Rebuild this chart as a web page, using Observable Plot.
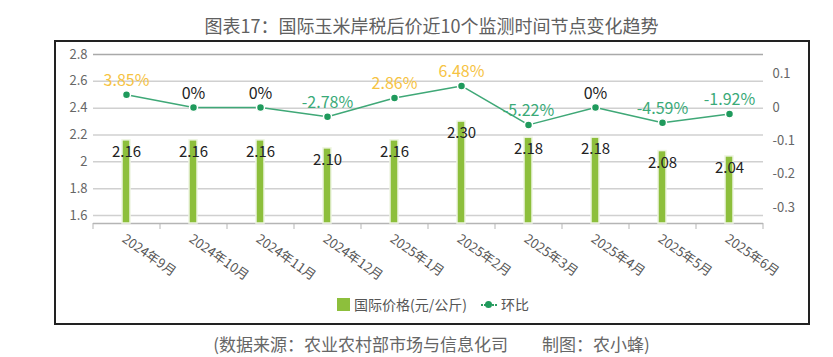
<!DOCTYPE html>
<html>
<head>
<meta charset="utf-8">
<script src="https://cdn.jsdelivr.net/npm/d3@7"></script>
<script src="https://cdn.jsdelivr.net/npm/@observablehq/plot@0.6"></script>
<style>
  html, body { margin: 0; padding: 0; background: #fff; }
  body { width: 833px; height: 357px; position: relative; overflow: hidden; font-family: "Noto Sans CJK SC", "Noto Sans", sans-serif; }
  #title { position: absolute; left: 0; width: 863px; top: 12px; text-align: center; font-size: 18px; color: #606060; }
  #box { position: absolute; left: 54px; top: 40px; width: 752px; height: 281px; border: 2px solid #222; pointer-events: none; }
  #caption { position: absolute; left: 0; width: 863px; top: 331px; text-align: center; font-size: 17px; color: #666; }
  #legend { position: absolute; top: 294px; left: 337px; font-size: 14px; color: #555; display: flex; align-items: center; }
  .sw { display: inline-block; width: 13px; height: 13px; background: #8dbf3c; margin-right: 4px; }
  .ln { display: inline-block; position: relative; width: 16px; height: 13px; margin: 0 4px 0 14px; }
  .ln::before { content: ""; position: absolute; left: 0; right: 0; top: 6px; border-top: 2px dotted #2e9e62; }
  .ln::after { content: ""; position: absolute; left: 4px; top: 3px; width: 7px; height: 7px; border-radius: 50%; background: #1f9a5c; }
  #chart { position: absolute; left: 0; top: 0; }
</style>
</head>
<body>
<div id="title">图表17：国际玉米岸税后价近10个监测时间节点变化趋势</div>
<div id="chart"></div>
<div id="box"></div>
<div id="legend"><span class="sw"></span><span>国际价格(元/公斤)</span><span class="ln"></span><span>环比</span></div>
<div id="caption">(数据来源：农业农村部市场与信息化司　　制图：农小蜂)</div>
<script>
// ---- data ----
const months = ["2024年9月", "2024年10月", "2024年11月", "2024年12月", "2025年1月", "2025年2月", "2025年3月", "2025年4月", "2025年5月", "2025年6月"];
const prices = [2.16, 2.16, 2.16, 2.10, 2.16, 2.30, 2.18, 2.18, 2.08, 2.04];
const changes = [0.0385, 0, 0, -0.0278, 0.0286, 0.0648, -0.0522, 0, -0.0459, -0.0192];
const changeLabels = ["3.85%", "0%", "0%", "-2.78%", "2.86%", "6.48%", "-5.22%", "0%", "-4.59%", "-1.92%"];
const leftTicks = [1.6, 1.8, 2.0, 2.2, 2.4, 2.6, 2.8];
const leftTickLabels = ["1.6", "1.8", "2", "2.2", "2.4", "2.6", "2.8"];
const rightTicks = [0.1, 0, -0.1, -0.2, -0.3];
const rightTickLabels = ["0.1", "0", "-0.1", "-0.2", "-0.3"];
const leftDomain = [1.54, 2.8];
const rightDomain = [-0.3483, 0.1592];

// ---- layout ----
const W = 833, H = 357;
const mL = 93, mR = 70, mT = 54, mB = 134;
const step = (W - mL - mR) / months.length;
const pxPerUnit = (H - mT - mB) / (leftDomain[1] - leftDomain[0]);

// secondary (right) axis mapped into the left scale's units
const toLeft = d3.scaleLinear().domain(rightDomain).range(leftDomain);

const rows = months.map((m, i) => ({
  month: m, price: prices[i], change: changes[i], pct: changeLabels[i], cy: toLeft(changes[i])
}));
const pctColor = d => d.change > 0 ? "#f6c343" : d.change < 0 ? "#3aaa78" : "#222";

const font = "Noto Sans CJK SC, Noto Sans, sans-serif";

const chart = Plot.plot({
  width: W, height: H,
  marginLeft: mL, marginRight: mR, marginTop: mT, marginBottom: mB,
  style: { background: "transparent", fontFamily: font, overflow: "visible" },
  x: { type: "band", domain: months, paddingInner: 0.88, paddingOuter: 0.44, axis: null },
  y: { domain: leftDomain, axis: null },
  marks: [
    Plot.ruleY(leftTicks, { stroke: d => d === 2.8 ? "#a9a9a9" : "#d0d0d0", strokeWidth: 1.5 }),
    Plot.ruleY([leftDomain[0]], { stroke: "#b5b5b5", strokeWidth: 1.5 }),
    Plot.ruleX(months, { x: d => d, dx: -step / 2, y1: leftDomain[0], y2: leftDomain[0] - 6 / pxPerUnit, stroke: "#b5b5b5" }),
    Plot.ruleX(months.slice(-1), { x: d => d, dx: step / 2, y1: leftDomain[0], y2: leftDomain[0] - 6 / pxPerUnit, stroke: "#b5b5b5" }),
    Plot.axisY(leftTicks, { anchor: "left", tickSize: 0, tickPadding: 6, tickFormat: (d, i) => leftTickLabels[leftTicks.indexOf(d)], fontSize: 13, fill: "#666" }),
    Plot.axisY(rightTicks.map(t => toLeft(t)), { anchor: "right", tickSize: 0, tickPadding: 9, tickFormat: (d, i) => rightTickLabels[i], fontSize: 13, fill: "#666" }),
    Plot.barY(rows, { x: "month", y1: leftDomain[0], y2: "price", fill: "#8dbf3c", stroke: "#eef5e2", strokeWidth: 1.5 }),
    Plot.text(rows, { x: "month", y: "price", text: d => d.price.toFixed(2), dy: 12, fontSize: 15, fill: "#222" }),
    Plot.line(rows, { x: "month", y: "cy", stroke: "#3fa877", strokeWidth: 1.5 }),
    Plot.dot(rows, { x: "month", y: "cy", r: 4, fill: "#1f9a5c", stroke: "#fff", strokeWidth: 1.5 }),
    Plot.text(rows, { x: "month", y: "cy", text: "pct", dy: -14, fontSize: 16, fill: pctColor }),
    Plot.text(months, { x: d => d, y: leftDomain[0], text: d => d, rotate: 35, textAnchor: "start", lineAnchor: "top", dy: 10, dx: 0, fontSize: 13, fill: "#555" })
  ]
});
document.getElementById("chart").appendChild(chart);
</script>
</body>
</html>
